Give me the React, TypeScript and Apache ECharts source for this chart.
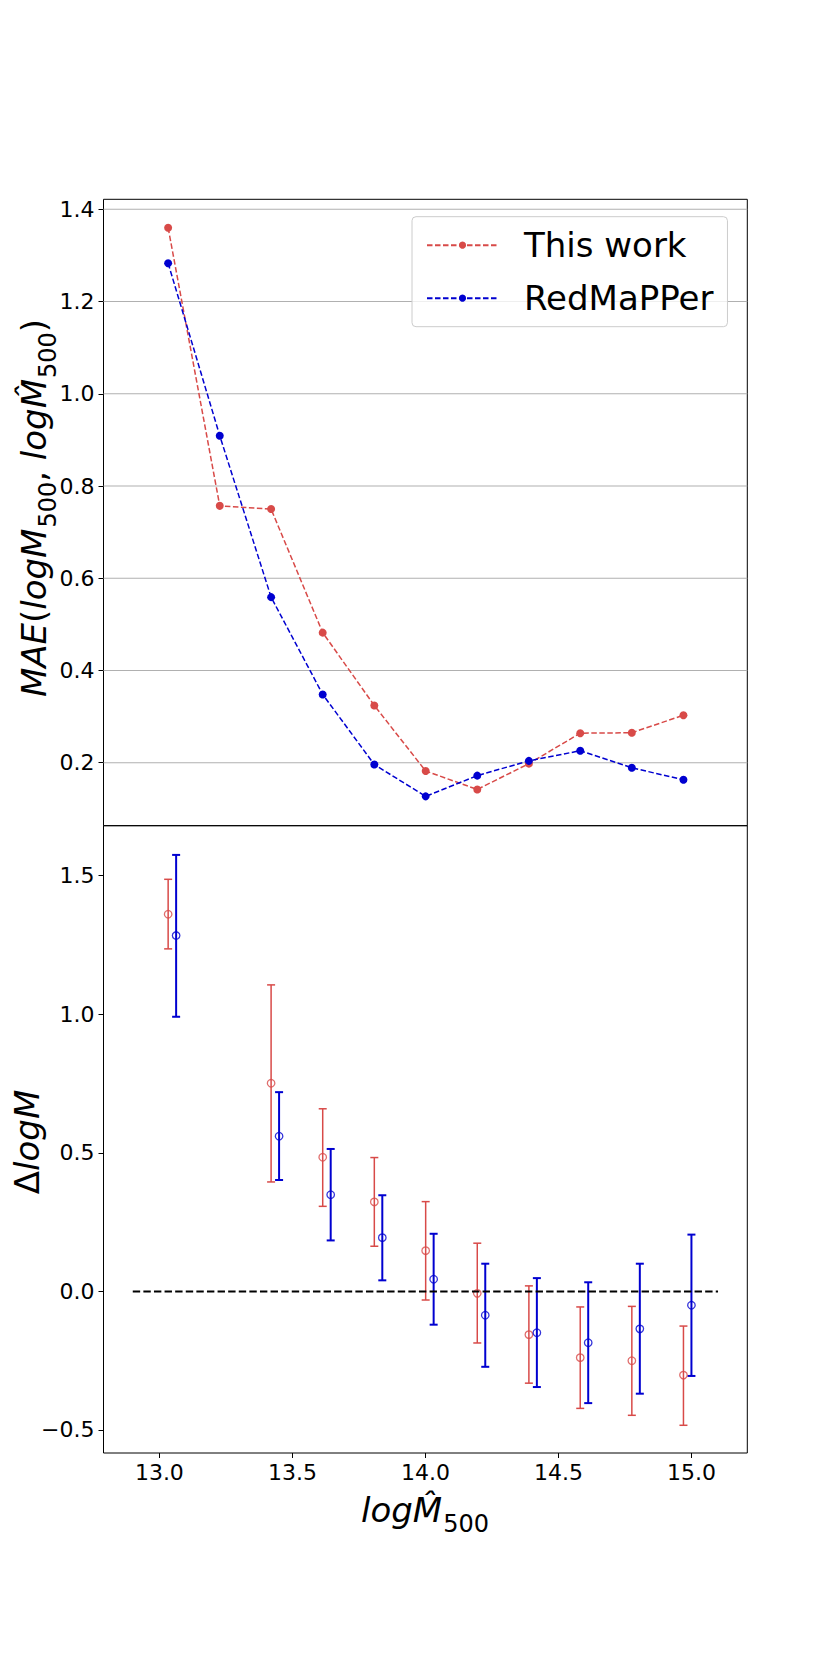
import React, { useEffect, useRef } from 'react';
import * as echarts from 'echarts';

// ---- data ----
const xTickValues = [13.0, 13.5, 14.0, 14.5, 15.0];
const maeTickValues = [0.2, 0.4, 0.6, 0.8, 1.0, 1.2, 1.4];
const biasTickValues = [-0.5, 0.0, 0.5, 1.0, 1.5];

const massBins = [13.033, 13.227, 13.420, 13.614, 13.808, 14.001, 14.195, 14.389, 14.582, 14.776, 14.970];
const maeThisWork = [1.360, 0.757, 0.750, 0.482, 0.324, 0.182, 0.142, 0.198, 0.264, 0.265, 0.303];
const maeRedMaPPer = [1.283, 0.909, 0.559, 0.348, 0.196, 0.127, 0.172, 0.204, 0.226, 0.189, 0.163];

const biasXThisWork = [13.033, 13.420, 13.614, 13.808, 14.001, 14.195, 14.389, 14.582, 14.776, 14.970];
const biasThisWork = [1.361, 0.751, 0.484, 0.323, 0.147, -0.007, -0.156, -0.239, -0.250, -0.302];
const biasThisWorkLow = [1.236, 0.395, 0.307, 0.163, -0.031, -0.186, -0.331, -0.422, -0.447, -0.483];
const biasThisWorkHigh = [1.487, 1.106, 0.659, 0.483, 0.324, 0.174, 0.020, -0.056, -0.054, -0.125];

const biasXRedMaPPer = [13.063, 13.450, 13.644, 13.838, 14.031, 14.225, 14.419, 14.612, 14.806, 15.000];
const biasRedMaPPer = [1.284, 0.560, 0.349, 0.194, 0.044, -0.086, -0.149, -0.185, -0.135, -0.050];
const biasRedMaPPerLow = [0.991, 0.402, 0.184, 0.040, -0.120, -0.272, -0.345, -0.403, -0.369, -0.305];
const biasRedMaPPerHigh = [1.575, 0.719, 0.514, 0.347, 0.208, 0.100, 0.048, 0.033, 0.100, 0.205];

const zeroLineX = [12.9, 15.1];
const xRange = [12.79, 15.21];
const maeRange = [0.0634, 1.4217];
const biasRange = [-0.583, 1.6804];

const RED = '#d84a48';
const BLUE = '#0000d0';
const FONT = 'DejaVu Sans';

function fmtMinus(v: number) {
  return (v < 0 ? '\u2212' : '') + Math.abs(v).toFixed(1);
}

const richMath = {
  m: { fontSize: 34, fontFamily: FONT, fontStyle: 'italic', lineHeight: 40, verticalAlign: 'top', fill: '#000' },
  u: { fontSize: 34, fontFamily: FONT, fontStyle: 'normal', lineHeight: 40, verticalAlign: 'top', fill: '#000' },
  s: { fontSize: 24, fontFamily: FONT, fontStyle: 'normal', lineHeight: 24, verticalAlign: 'top', padding: [19, 0, 0, 1], fill: '#000' },
};

export default function App() {
  const ref = useRef<HTMLDivElement>(null);

  useEffect(() => {
    const chart = echarts.init(ref.current as HTMLDivElement, null, { renderer: 'svg' });

    const L = 103.5;
    const W = 643.8;
    const top0 = 199.3;
    const h0 = 626.4;
    const top1 = 825.7;
    const h1 = 627.3;

    const tickLabel = { fontSize: 22, color: '#000', fontFamily: FONT };

    const errorBarSeries = (xs: number[], lo: number[], hi: number[], color: string, width: number) => ({
      type: 'custom',
      xAxisIndex: 1,
      yAxisIndex: 1,
      z: 3,
      silent: true,
      data: xs.map((x, i) => [x, lo[i], hi[i]]),
      renderItem: (params: any, api: any) => {
        const x = api.value(0);
        const pLo = api.coord([x, api.value(1)]);
        const pHi = api.coord([x, api.value(2)]);
        const cap = 4;
        const style = { stroke: color, lineWidth: width };
        return {
          type: 'group',
          children: [
            { type: 'line', shape: { x1: pLo[0], y1: pLo[1], x2: pHi[0], y2: pHi[1] }, style },
            { type: 'line', shape: { x1: pLo[0] - cap, y1: pLo[1], x2: pLo[0] + cap, y2: pLo[1] }, style },
            { type: 'line', shape: { x1: pHi[0] - cap, y1: pHi[1], x2: pHi[0] + cap, y2: pHi[1] }, style },
          ],
        };
      },
    });

    const option: any = {
      animation: false,
      backgroundColor: '#fff',
      grid: [
        { left: L, top: top0, width: W, height: h0, show: true, borderColor: '#000', borderWidth: 1, backgroundColor: 'transparent', containLabel: false, outerBoundsMode: 'none' },
        { left: L, top: top1, width: W, height: h1, show: true, borderColor: '#000', borderWidth: 1, backgroundColor: 'transparent', containLabel: false, outerBoundsMode: 'none' },
      ],
      xAxis: [
        {
          type: 'value', gridIndex: 0, min: xRange[0], max: xRange[1],
          axisLine: { show: false, onZero: false }, axisTick: { show: false }, axisLabel: { show: false }, splitLine: { show: false },
        },
        {
          type: 'value', gridIndex: 1, min: xRange[0], max: xRange[1],
          axisLine: { show: false, onZero: false },
          axisTick: { show: true, length: 5, lineStyle: { color: '#000', width: 1 }, customValues: xTickValues },
          axisLabel: { ...tickLabel, margin: 8, customValues: xTickValues, formatter: (v: number) => v.toFixed(1) },
          splitLine: { show: false },
        },
      ],
      yAxis: [
        {
          type: 'value', gridIndex: 0, min: maeRange[0], max: maeRange[1],
          axisLine: { show: false, onZero: false },
          axisTick: { show: true, length: 5, lineStyle: { color: '#000', width: 1 }, customValues: maeTickValues },
          axisLabel: { ...tickLabel, margin: 9, customValues: maeTickValues, formatter: (v: number) => v.toFixed(1) },
          splitLine: { show: false },
        },
        {
          type: 'value', gridIndex: 1, min: biasRange[0], max: biasRange[1],
          axisLine: { show: false, onZero: false },
          axisTick: { show: true, length: 5, lineStyle: { color: '#000', width: 1 }, customValues: biasTickValues },
          axisLabel: { ...tickLabel, margin: 9, customValues: biasTickValues, formatter: (v: number) => fmtMinus(v) },
          splitLine: { show: false },
        },
      ],
      legend: {
        data: ['This work', 'RedMaPPer'],
        orient: 'vertical',
        left: 412,
        top: 216.7,
        itemWidth: 71,
        itemHeight: 9,
        itemGap: 13,
        padding: [8.5, 14, 8.5, 14],
        backgroundColor: 'rgba(255,255,255,0.8)',
        borderColor: '#cccccc',
        borderWidth: 1,
        borderRadius: 4,
        textStyle: { fontSize: 34, fontFamily: FONT, color: '#000', lineHeight: 40, padding: [0, 0, 0, 21] },
      },
      series: [
        {
          type: 'custom',
          name: '_grid',
          xAxisIndex: 0,
          yAxisIndex: 0,
          z: 1,
          silent: true,
          data: maeTickValues.map((v) => [xRange[0], v]),
          renderItem: (params: any, api: any) => {
            const y = api.coord([api.value(0), api.value(1)])[1];
            const cs = params.coordSys;
            return {
              type: 'line',
              shape: { x1: cs.x, y1: y, x2: cs.x + cs.width, y2: y },
              style: { stroke: '#b0b0b0', lineWidth: 1.1 },
            };
          },
        },
        {
          type: 'line',
          name: 'This work',
          xAxisIndex: 0,
          yAxisIndex: 0,
          z: 3,
          data: massBins.map((x, i) => [x, maeThisWork[i]]),
          symbol: 'circle',
          symbolSize: 8,
          lineStyle: { color: RED, width: 1.5, type: [5.5, 2.5] },
          itemStyle: { color: RED },
        },
        {
          type: 'line',
          name: 'RedMaPPer',
          xAxisIndex: 0,
          yAxisIndex: 0,
          z: 3,
          data: massBins.map((x, i) => [x, maeRedMaPPer[i]]),
          symbol: 'circle',
          symbolSize: 8,
          lineStyle: { color: BLUE, width: 1.5, type: [5.5, 2.5] },
          itemStyle: { color: BLUE },
        },
        errorBarSeries(biasXThisWork, biasThisWorkLow, biasThisWorkHigh, RED, 1.5),
        {
          type: 'scatter',
          xAxisIndex: 1,
          yAxisIndex: 1,
          z: 4,
          silent: true,
          symbol: 'circle',
          symbolSize: 7.5,
          data: biasXThisWork.map((x, i) => [x, biasThisWork[i]]),
          itemStyle: { color: 'rgba(0,0,0,0)', borderColor: RED, borderWidth: 1.3 },
        },
        errorBarSeries(biasXRedMaPPer, biasRedMaPPerLow, biasRedMaPPerHigh, BLUE, 2),
        {
          type: 'scatter',
          xAxisIndex: 1,
          yAxisIndex: 1,
          z: 4,
          silent: true,
          symbol: 'circle',
          symbolSize: 7.5,
          data: biasXRedMaPPer.map((x, i) => [x, biasRedMaPPer[i]]),
          itemStyle: { color: 'rgba(0,0,0,0)', borderColor: BLUE, borderWidth: 1.3 },
        },
        {
          type: 'line',
          xAxisIndex: 1,
          yAxisIndex: 1,
          z: 5,
          silent: true,
          symbol: 'none',
          data: zeroLineX.map((x) => [x, 0]),
          lineStyle: { color: '#000', width: 2, type: [7.4, 3.2] },
        },
      ],
      graphic: [
        {
          type: 'text',
          x: 37,
          y: 508,
          rotation: Math.PI / 2,
          style: {
            text: '{m|MAE}{u|(}{m|logM}{s|500}{u|,}{m| logM\u0302}{s|500}{u|)}',
            rich: richMath,
            fontSize: 34, fontFamily: FONT, fill: '#000',
            align: 'center', verticalAlign: 'middle', textAlign: 'center', textVerticalAlign: 'middle',
          },
        },
        {
          type: 'text',
          x: 30,
          y: 1142,
          rotation: Math.PI / 2,
          style: {
            text: '{u|\u0394}{m|logM}',
            rich: richMath,
            fontSize: 34, fontFamily: FONT, fill: '#000',
            align: 'center', verticalAlign: 'middle', textAlign: 'center', textVerticalAlign: 'middle',
          },
        },
        {
          type: 'text',
          x: 425,
          y: 1513,
          style: {
            text: '{m|logM\u0302}{s|500}',
            rich: richMath,
            fontSize: 34, fontFamily: FONT, fill: '#000',
            align: 'center', verticalAlign: 'middle', textAlign: 'center', textVerticalAlign: 'middle',
          },
        },
      ],
    };

    chart.setOption(option);
    return () => chart.dispose();
  }, []);

  return <div ref={ref} style={{ position: 'absolute', left: 0, top: 0, width: 830, height: 1661 }} />;
}
